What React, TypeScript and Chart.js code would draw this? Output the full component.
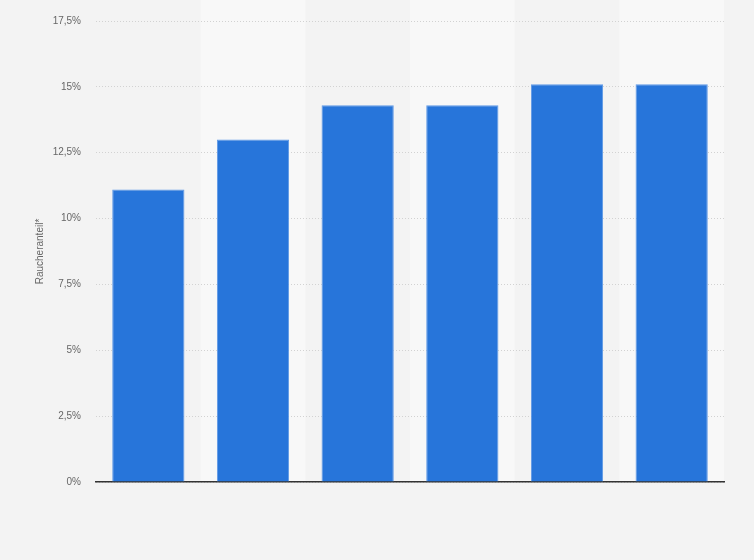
import { useEffect, useRef } from "react"
import { Chart, registerables } from "chart.js"

Chart.register(...registerables)

// Daten (x-Beschriftungen sind im Original nicht sichtbar)
const categories = ["1", "2", "3", "4", "5", "6"]
const raucheranteil = [11.1, 13.0, 14.3, 14.3, 15.1, 15.1]
const yTicks = [0, 2.5, 5, 7.5, 10, 12.5, 15, 17.5]

const stripePlugin = {
  id: "stripes",
  beforeDraw(chart: any) {
    const { ctx, chartArea, scales } = chart
    const x = scales.x
    const band = (chartArea.right - chartArea.left) / categories.length
    ctx.save()
    ctx.fillStyle = "#f8f8f8"
    categories.forEach((_, i) => {
      if (i % 2 === 1) {
        const cx = x.getPixelForValue(i)
        ctx.fillRect(cx - band / 2, 0, band, chartArea.bottom)
      }
    })
    ctx.restore()
  },
}

export default function App() {
  const chartRef = useRef<HTMLCanvasElement>(null)
  const chartInstance = useRef<Chart | null>(null)

  useEffect(() => {
    document.body.style.margin = "0"
    if (!chartRef.current) return
    if (chartInstance.current) chartInstance.current.destroy()
    const ctx = chartRef.current.getContext("2d")
    if (!ctx) return

    chartInstance.current = new Chart(ctx, {
      type: "bar",
      data: {
        labels: categories,
        datasets: [
          {
            label: "Raucheranteil",
            data: raucheranteil,
            backgroundColor: "#2775da",
            borderColor: "#5e98e6",
            borderWidth: 1,
            categoryPercentage: 1,
            barPercentage: 0.69,
          },
        ],
      },
      options: {
        animation: false,
        responsive: false,
        layout: { padding: { top: 20, right: 30, bottom: 70, left: 0 } },
        plugins: {
          legend: { display: false },
          tooltip: { enabled: false },
        },
        scales: {
          x: {
            ticks: { display: false },
            grid: { display: false },
            border: { display: true, color: "#333333", width: 1.5 },
          },
          y: {
            min: 0,
            max: 17.5,
            afterFit(scale: any) {
              scale.width = 96
            },
            afterBuildTicks(scale: any) {
              scale.ticks = yTicks.map((v) => ({ value: v }))
            },
            ticks: {
              padding: 15,
              color: "#666666",
              font: { family: "'Liberation Sans', Arial, sans-serif", size: 10 },
              callback: (v: any) => String(v).replace(".", ",") + "%",
            },
            grid: {
              color: "#d2d2d2",
              drawTicks: false,
              lineWidth: 1,
            },
            border: { display: false, dash: [1, 2] },
            title: {
              display: true,
              text: "Raucheranteil*",
              color: "#666666",
              font: { family: "'Liberation Sans', Arial, sans-serif", size: 10 },
              padding: { top: 34, bottom: 0 },
            },
          },
        },
      },
      plugins: [stripePlugin],
    })

    return () => {
      if (chartInstance.current) chartInstance.current.destroy()
    }
  }, [])

  return (
    <div style={{ width: 754, height: 560, background: "#f3f3f3" }}>
      <canvas ref={chartRef} width={754} height={560} />
    </div>
  )
}
